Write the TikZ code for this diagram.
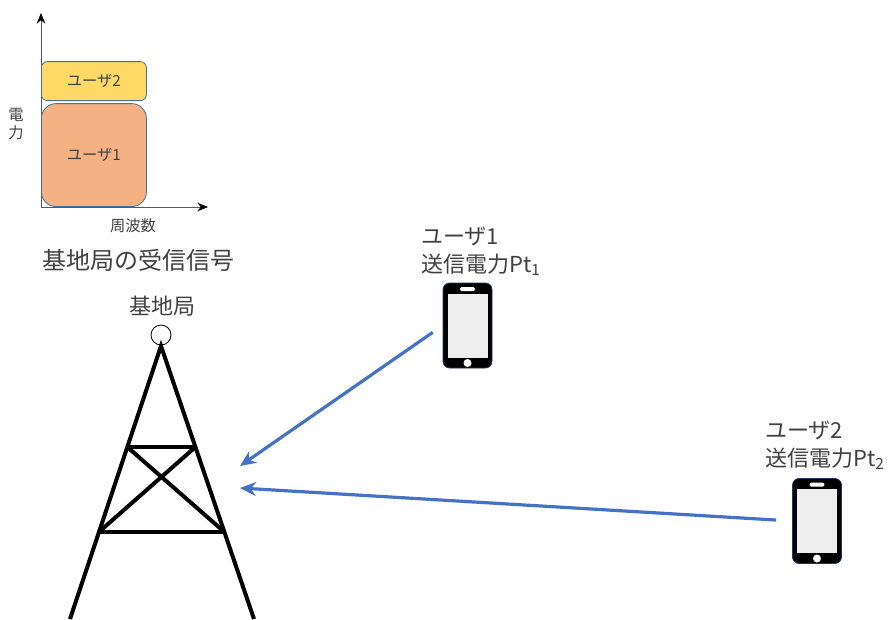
\documentclass[tikz,border=0pt]{standalone}
\usepackage{fontspec}
\setmainfont{Noto Sans CJK JP}
\usetikzlibrary{positioning, arrows.meta, calc}
\definecolor{sigblue}{HTML}{4472C4}
\definecolor{orfill}{HTML}{F4B183}
\definecolor{yefill}{HTML}{FFD966}
\definecolor{bandedge}{HTML}{41719C}
\definecolor{txtgray}{HTML}{404040}
\definecolor{phedge}{HTML}{1F3864}

\begin{document}
\begin{tikzpicture}[
  x=0.75pt, y=-0.75pt,
  >=Stealth,
  every node/.style={text=txtgray},
  band/.style={
    draw=bandedge, fill=#1, line width=0.6pt,
    minimum width=78.75pt, inner sep=0pt,
    font=\fontsize{11.5}{13}\selectfont,
  },
  axis/.style={-{Stealth[length=8pt, width=6.5pt, black]}, black!65, line width=0.7pt},
  small/.style={font=\fontsize{11.5}{14}\selectfont},
  big/.style={font=\fontsize{16.5}{21}\selectfont, align=left, inner sep=0pt},
  body/.style={
    fill=black, draw=phedge, line width=0.6pt, rounded corners=5pt,
    minimum width=36.75pt, minimum height=63.75pt,
  },
  screen/.style={fill=gray!13, minimum width=30pt, minimum height=48pt, inner sep=0pt},
  sig/.style={-{Stealth[length=12pt, width=10.5pt]}, sigblue, line width=2.4pt},
  mast/.style={line width=3pt, black},
]
\useasboundingbox (0,0) rectangle (893,619);

% === RECEIVED SPECTRUM (top left) ===
\coordinate (org) at (41,207);
\draw[axis] (org) -- (41,13);
\draw[axis] (org) -- (208,207);

\node[band=orfill, rounded corners=11pt, minimum height=77.25pt,
  anchor=south west] (u1) at (41,207) {ユーザ1};
\node[band=yefill, rounded corners=4.5pt, minimum height=29.25pt,
  anchor=south west] (u2) at (41,101) {ユーザ2};

\node[small, align=center, inner sep=0pt] (pw) at (16,124) {電\\力};
\node[small] (fq) at (133,226) {周波数};
\node[font=\fontsize{18}{21}\selectfont] (cap) at (138,260) {基地局の受信信号};

% === BASE STATION (bottom left) ===
\node[font=\fontsize{16.5}{20}\selectfont] (bs) at (162,306) {基地局};
\node[circle, draw, line width=0.6pt, minimum size=15pt, inner sep=0pt] (ant) at (161,335) {};

\coordinate (top) at (161,346);
\coordinate (bl) at (70,619);
\coordinate (br) at (254,619);
\draw[mast] (bl) -- (top) -- (br);
\draw[mast] ($(top)!0.37!(bl)$) coordinate (a1) -- ($(top)!0.37!(br)$) coordinate (a2);
\draw[mast] ($(top)!0.681!(bl)$) coordinate (b1) -- ($(top)!0.681!(br)$) coordinate (b2);
\draw[mast] (a1) -- (b2);
\draw[mast] (a2) -- (b1);

% receive points
\coordinate (rx1) at (240,466);
\coordinate (rx2) at (240,488);

% === TERMINALS ===
\foreach \name/\x/\y in {ph1/467.5/325.5, ph2/817/521} {
  \node[body] (\name) at (\x,\y) {};
  \node[screen] (\name scr) at (\name) {};
  \node[fill=white, rounded corners=1pt, minimum width=11pt, minimum height=3pt,
    inner sep=0pt] (\name spk) at ($(\name)+(0,-36.5)$) {};
  \node[circle, fill=white, minimum size=6pt, inner sep=0pt] (\name btn)
    at ($(\name)+(0,37.5)$) {};
}

\node[big, anchor=west] (t1) at (421,251) {ユーザ1\\送信電力Pt\textsubscript{1}};
\node[big, anchor=west] (t2) at (765,445) {ユーザ2\\送信電力Pt\textsubscript{2}};

% uplink signals
\draw[sig, shorten <=9pt] (ph1.west) -- (rx1);
\draw[sig, shorten <=12pt] (ph2.west) -- (rx2);

\end{tikzpicture}
\end{document}
